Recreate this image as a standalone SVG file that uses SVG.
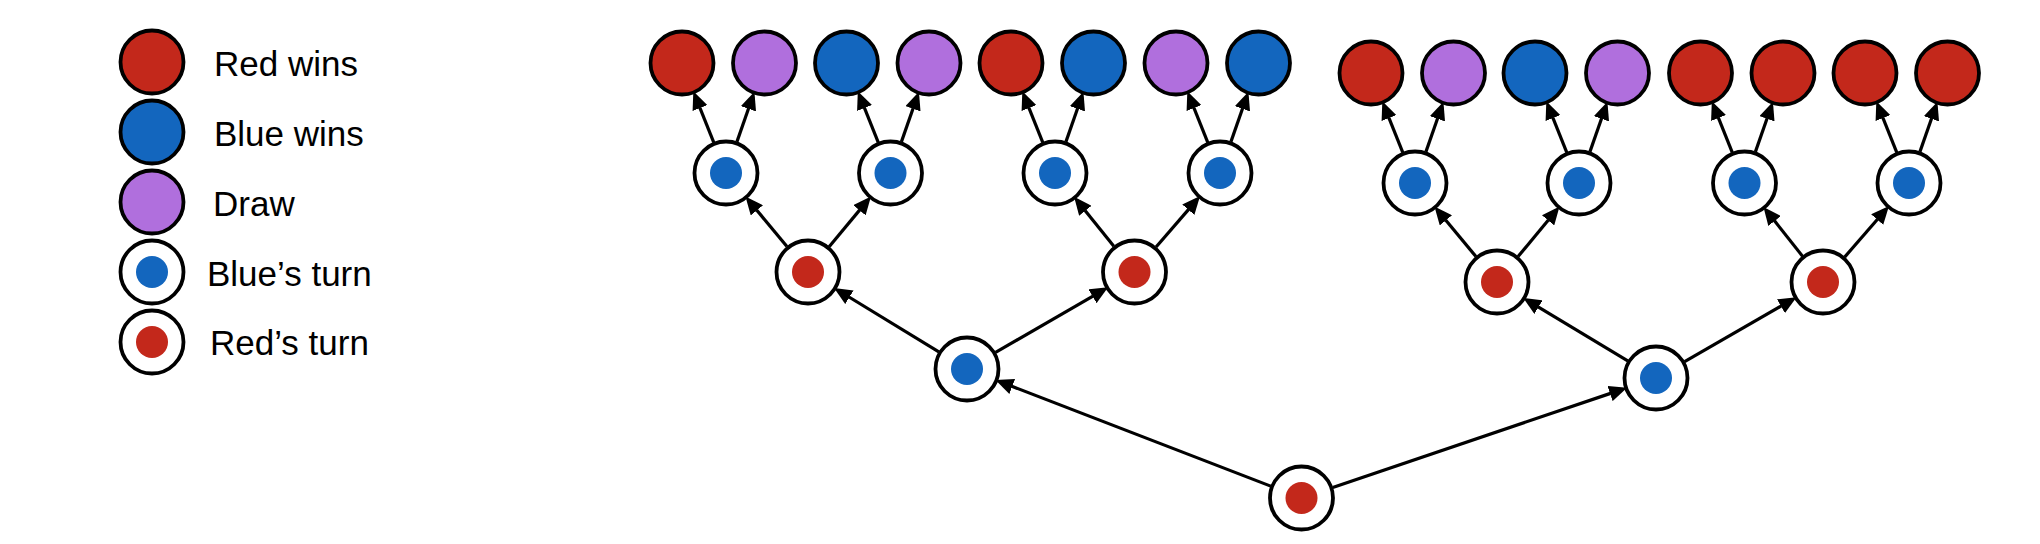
<svg xmlns="http://www.w3.org/2000/svg" width="2040" height="544" viewBox="0 0 2040 544">
<style>
.n{stroke:#000;stroke-width:3.8}
.w{fill:#fff}
.r{fill:#C3281B}
.b{fill:#1366BE}
.p{fill:#B06FDD}
.dr{fill:#C3281B;stroke:none}
.db{fill:#1366BE;stroke:none}
.e line{stroke:#000;stroke-width:3.2;marker-end:url(#ah)}
text{font-family:"Liberation Sans",Arial,sans-serif;font-size:35px;fill:#000}
</style>
<defs>
<marker id="ah" markerUnits="userSpaceOnUse" markerWidth="18" markerHeight="16" refX="0.5" refY="8" orient="auto" viewBox="0 0 18 16">
<path d="M0,0 L18,8 L0,16 z" fill="#000"/>
</marker>
</defs>
<g id="legend">
<g id="lg-red"><circle class="n r" cx="152" cy="62" r="31.5"/><text x="214" y="76">Red wins</text></g>
<g id="lg-blue"><circle class="n b" cx="152" cy="132" r="31.5"/><text x="214" y="146">Blue wins</text></g>
<g id="lg-draw"><circle class="n p" cx="152" cy="202" r="31.5"/><text x="213" y="216">Draw</text></g>
<g id="lg-bturn"><circle class="n w" cx="152" cy="272" r="31.5"/><circle class="db" cx="152" cy="272" r="16"/><text x="207" y="286">Blue’s turn</text></g>
<g id="lg-rturn"><circle class="n w" cx="152" cy="342" r="31.5"/><circle class="dr" cx="152" cy="342" r="16"/><text x="210" y="355">Red’s turn</text></g>
</g>
<g id="connectors" class="e">
<line x1="1270.71" y1="486.13" x2="1011.78" y2="386.27"/>
<line x1="1332.76" y1="487.42" x2="1610.53" y2="393.39"/>
<line x1="938.83" y1="351.81" x2="848.98" y2="297"/>
<line x1="995.56" y1="352.46" x2="1092.96" y2="296.05"/>
<line x1="1627.75" y1="360.94" x2="1538.09" y2="306.81"/>
<line x1="1684.61" y1="361.55" x2="1781.38" y2="305.92"/>
<line x1="786.95" y1="246.59" x2="756.62" y2="209.96"/>
<line x1="829.13" y1="246.65" x2="859.77" y2="209.87"/>
<line x1="1113.84" y1="246.27" x2="1085.05" y2="210.43"/>
<line x1="1156.07" y1="247.03" x2="1188.63" y2="209.33"/>
<line x1="1475.95" y1="256.59" x2="1445.62" y2="219.96"/>
<line x1="1518.05" y1="256.59" x2="1548.38" y2="219.96"/>
<line x1="1802.5" y1="256.14" x2="1774.32" y2="220.61"/>
<line x1="1844.64" y1="257.09" x2="1877.52" y2="219.24"/>
<line x1="713.74" y1="142.36" x2="699.83" y2="107.57"/>
<line x1="736.9" y1="141.85" x2="748.64" y2="108.31"/>
<line x1="878.24" y1="142.36" x2="864.33" y2="107.57"/>
<line x1="901.4" y1="141.85" x2="913.14" y2="108.31"/>
<line x1="1042.74" y1="142.36" x2="1028.83" y2="107.57"/>
<line x1="1065.9" y1="141.85" x2="1077.64" y2="108.31"/>
<line x1="1207.74" y1="142.36" x2="1193.83" y2="107.57"/>
<line x1="1230.9" y1="141.85" x2="1242.64" y2="108.31"/>
<line x1="1402.74" y1="152.36" x2="1388.83" y2="117.57"/>
<line x1="1425.9" y1="151.85" x2="1437.64" y2="118.31"/>
<line x1="1566.74" y1="152.36" x2="1552.83" y2="117.57"/>
<line x1="1589.9" y1="151.85" x2="1601.64" y2="118.31"/>
<line x1="1732.24" y1="152.36" x2="1718.33" y2="117.57"/>
<line x1="1755.4" y1="151.85" x2="1767.14" y2="118.31"/>
<line x1="1896.74" y1="152.36" x2="1882.83" y2="117.57"/>
<line x1="1919.9" y1="151.85" x2="1931.64" y2="118.31"/>
</g>
<g id="root"><circle class="n w" cx="1301.5" cy="498" r="31.5"/><circle class="dr" cx="1301.5" cy="498" r="16"/></g>
<g id="b-l"><circle class="n w" cx="967" cy="369" r="31.5"/><circle class="db" cx="967" cy="369" r="16"/></g>
<g id="b-r"><circle class="n w" cx="1656" cy="378" r="31.5"/><circle class="db" cx="1656" cy="378" r="16"/></g>
<g id="r-ll"><circle class="n w" cx="808" cy="272" r="31.5"/><circle class="dr" cx="808" cy="272" r="16"/></g>
<g id="r-lr"><circle class="n w" cx="1134.5" cy="272" r="31.5"/><circle class="dr" cx="1134.5" cy="272" r="16"/></g>
<g id="r-rl"><circle class="n w" cx="1497" cy="282" r="31.5"/><circle class="dr" cx="1497" cy="282" r="16"/></g>
<g id="r-rr"><circle class="n w" cx="1823" cy="282" r="31.5"/><circle class="dr" cx="1823" cy="282" r="16"/></g>
<g id="bt-1"><circle class="n w" cx="726" cy="173" r="31.5"/><circle class="db" cx="726" cy="173" r="16"/></g>
<g id="bt-2"><circle class="n w" cx="890.5" cy="173" r="31.5"/><circle class="db" cx="890.5" cy="173" r="16"/></g>
<g id="bt-3"><circle class="n w" cx="1055" cy="173" r="31.5"/><circle class="db" cx="1055" cy="173" r="16"/></g>
<g id="bt-4"><circle class="n w" cx="1220" cy="173" r="31.5"/><circle class="db" cx="1220" cy="173" r="16"/></g>
<g id="bt-5"><circle class="n w" cx="1415" cy="183" r="31.5"/><circle class="db" cx="1415" cy="183" r="16"/></g>
<g id="bt-6"><circle class="n w" cx="1579" cy="183" r="31.5"/><circle class="db" cx="1579" cy="183" r="16"/></g>
<g id="bt-7"><circle class="n w" cx="1744.5" cy="183" r="31.5"/><circle class="db" cx="1744.5" cy="183" r="16"/></g>
<g id="bt-8"><circle class="n w" cx="1909" cy="183" r="31.5"/><circle class="db" cx="1909" cy="183" r="16"/></g>
<g id="leaf-1"><circle class="n r" cx="682" cy="63" r="31.5"/></g>
<g id="leaf-2"><circle class="n p" cx="764.5" cy="63" r="31.5"/></g>
<g id="leaf-3"><circle class="n b" cx="846.5" cy="63" r="31.5"/></g>
<g id="leaf-4"><circle class="n p" cx="929" cy="63" r="31.5"/></g>
<g id="leaf-5"><circle class="n r" cx="1011" cy="63" r="31.5"/></g>
<g id="leaf-6"><circle class="n b" cx="1093.5" cy="63" r="31.5"/></g>
<g id="leaf-7"><circle class="n p" cx="1176" cy="63" r="31.5"/></g>
<g id="leaf-8"><circle class="n b" cx="1258.5" cy="63" r="31.5"/></g>
<g id="leaf-9"><circle class="n r" cx="1371" cy="73" r="31.5"/></g>
<g id="leaf-10"><circle class="n p" cx="1453.5" cy="73" r="31.5"/></g>
<g id="leaf-11"><circle class="n b" cx="1535" cy="73" r="31.5"/></g>
<g id="leaf-12"><circle class="n p" cx="1617.5" cy="73" r="31.5"/></g>
<g id="leaf-13"><circle class="n r" cx="1700.5" cy="73" r="31.5"/></g>
<g id="leaf-14"><circle class="n r" cx="1783" cy="73" r="31.5"/></g>
<g id="leaf-15"><circle class="n r" cx="1865" cy="73" r="31.5"/></g>
<g id="leaf-16"><circle class="n r" cx="1947.5" cy="73" r="31.5"/></g>
</svg>
